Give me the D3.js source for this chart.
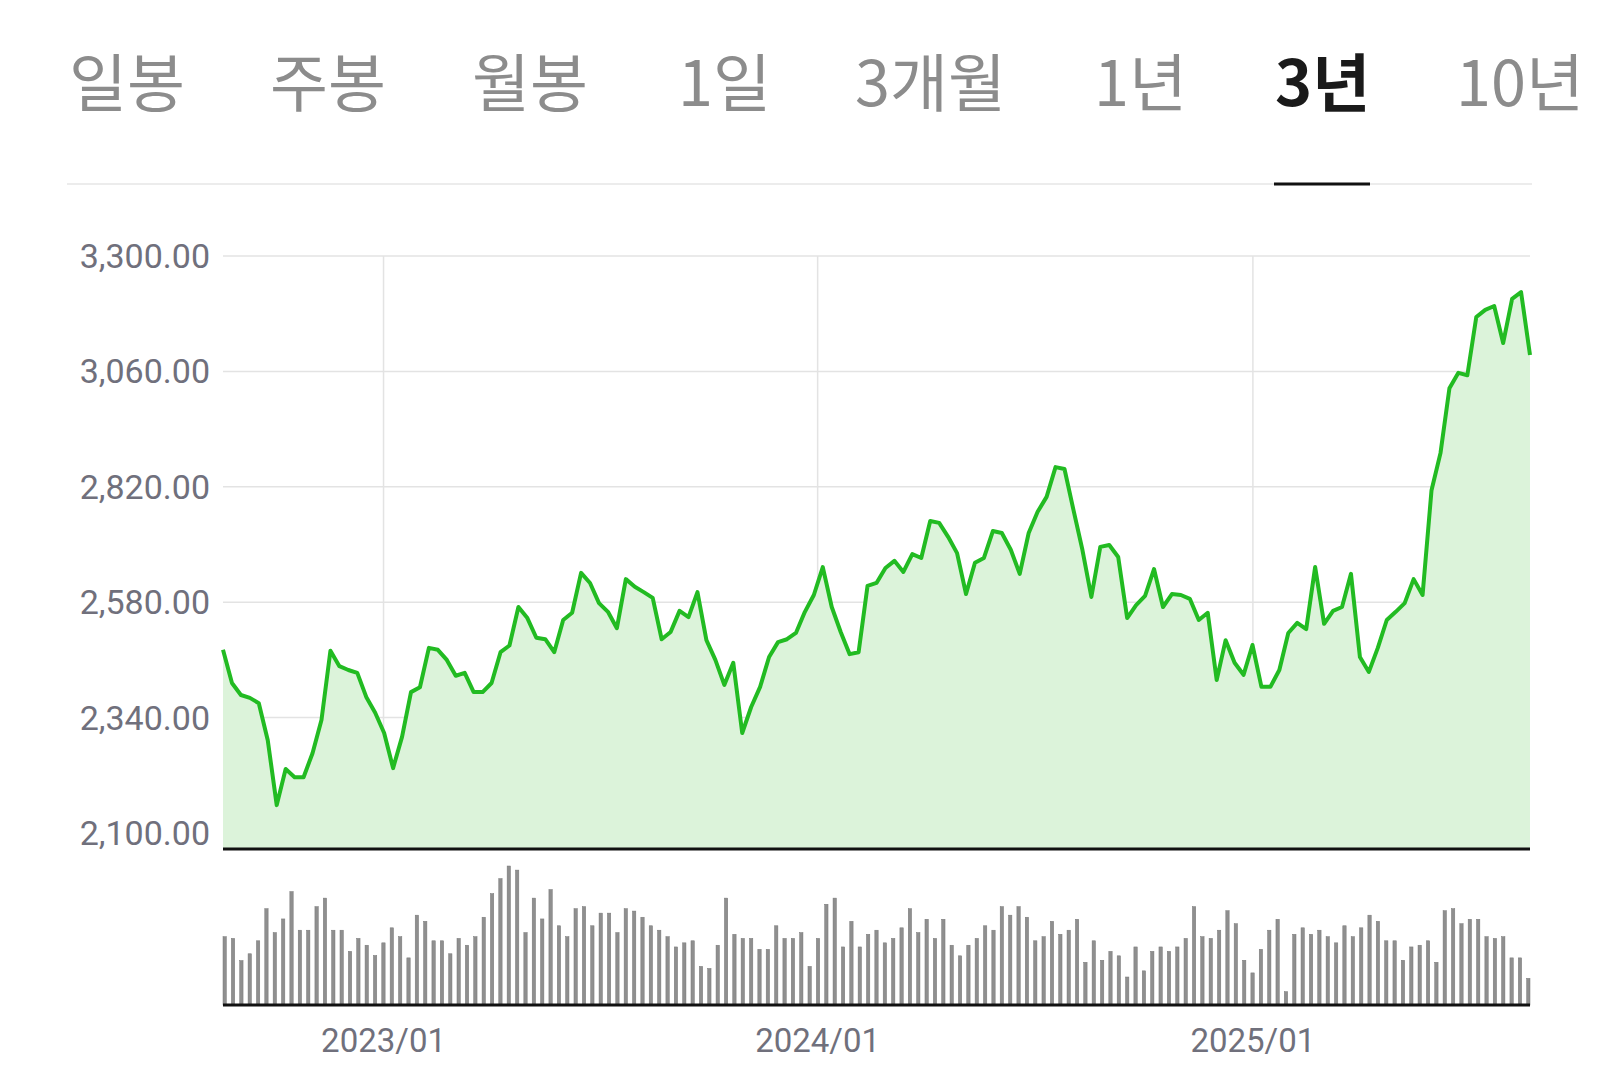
<!DOCTYPE html>
<html>
<head>
<meta charset="utf-8">
<script src="https://cdn.jsdelivr.net/npm/d3@7"></script>
<style>
  body { margin: 0; background: #fff; }
  svg { display: block; }
</style>
</head>
<body>
<div id="chart"></div>
<script>
// tabs
const tabs = ["일봉", "주봉", "월봉", "1일", "3개월", "1년", "3년", "10년"];
const tabX = [69, 270, 472, 678, 855, 1094, 1275, 1456];
const activeTab = "3년";

// price axis
const yTicks = [2100, 2340, 2580, 2820, 3060, 3300];
const xTickLabels = ["2023/01", "2024/01", "2025/01"];
const xTickDates = [new Date(2023, 0, 1), new Date(2024, 0, 1), new Date(2025, 0, 1)];

// weekly close
const prices = [
  2481, 2412, 2387, 2381, 2370, 2293, 2158, 2233, 2216, 2216, 2266, 2335, 2479, 2447, 2439, 2433,
  2383, 2350, 2308, 2235, 2300, 2393, 2403, 2485, 2481, 2460, 2427, 2433, 2393, 2393, 2412, 2476,
  2490, 2570, 2547, 2506, 2503, 2476, 2543,
  2558, 2641, 2620, 2578, 2560, 2526, 2628, 2612, 2601, 2589, 2503, 2518, 2562, 2549, 2601, 2501,
  2460, 2408, 2454, 2308, 2362, 2404, 2466, 2497, 2503, 2516, 2560, 2595, 2653, 2570, 2518, 2472,
  2476, 2614, 2620,
  2651, 2666, 2643, 2680, 2672, 2749, 2745, 2716, 2682, 2597, 2662, 2672, 2728, 2724, 2689, 2639,
  2724, 2768, 2799, 2861, 2857, 2772, 2689, 2591, 2695, 2699, 2674, 2547, 2574, 2593, 2649, 2570,
  2597, 2595, 2587, 2543, 2558, 2418,
  2501, 2454, 2429, 2491, 2404, 2404, 2439, 2516, 2537, 2524, 2653, 2535, 2562, 2570, 2639, 2466,
  2435, 2485, 2543, 2560, 2578, 2628, 2595, 2813, 2890, 3025, 3057, 3052, 3173, 3188, 3196, 3119,
  3211, 3225, 3094
];

// weekly volume (relative bar heights)
const volumes = [
  200, 195, 130, 150, 188, 282, 212, 252, 332, 219, 219, 288, 313, 219, 219, 157, 195, 175, 145, 182,
  226, 200, 138, 263, 245, 188, 188, 150, 195, 175, 200, 257, 326, 370, 407, 395, 212, 313, 252, 338,
  232, 200, 282, 288, 232, 269, 269, 212, 282, 275, 257, 232, 219, 200, 170, 182, 188, 113, 107, 175,
  313, 207, 195, 195, 163, 163, 232, 195, 195, 212, 113, 195, 295, 313, 170, 245,
  170, 207, 219, 182, 195, 226, 282, 212, 251, 195, 251, 175, 144, 175, 195, 232, 219, 288, 263, 288,
  257, 188, 200, 245, 207, 219, 251, 125, 188, 131, 157, 144, 82, 170, 100, 157, 170, 157, 170, 195,
  288, 200, 195, 219, 276, 238, 131, 94, 163, 219, 251, 39, 207, 226, 207, 219, 200, 182, 232, 200,
  226, 263, 245, 188, 188, 131, 170, 175, 188, 125, 276, 282, 238, 251, 251, 200, 195, 200, 138, 138,
  78
];

const W = 1600, H = 1092;
const plotL = 223, plotR = 1530, plotT = 256, plotB = 833;
const axisY = 849, volTop = 866, volBase = 1005;

const svg = d3.select("#chart").append("svg")
  .attr("width", W).attr("height", H);

// tabs
svg.selectAll(".tab")
  .data(tabs)
  .join("text")
  .attr("class", "tab")
  .attr("x", (d, i) => tabX[i])
  .attr("y", 106)
  .attr("font-family", "'Noto Sans CJK KR', 'Noto Sans', sans-serif")
  .attr("font-size", 63)
  .attr("font-weight", d => d === activeTab ? 700 : 400)
  .attr("fill", d => d === activeTab ? "#1a1a1a" : "#8c8c8c")
  .text(d => d);

svg.append("line")
  .attr("x1", 67).attr("x2", 1532).attr("y1", 184).attr("y2", 184)
  .attr("stroke", "#ececec").attr("stroke-width", 2);
svg.append("line")
  .attr("x1", 1274).attr("x2", 1370).attr("y1", 184).attr("y2", 184)
  .attr("stroke", "#111").attr("stroke-width", 3);

// scales
const x = d3.scaleLinear().domain([0, prices.length - 1]).range([plotL, plotR]);
const xt = d3.scaleTime()
  .domain([new Date(2022, 7, 19), new Date(2025, 7, 22)])
  .range([plotL, plotR]);
const y = d3.scaleLinear().domain([2100, 3300]).range([plotB, plotT]);

// grid
svg.append("g")
  .selectAll("line")
  .data(yTicks)
  .join("line")
  .attr("x1", plotL).attr("x2", plotR)
  .attr("y1", d => y(d)).attr("y2", d => y(d))
  .attr("stroke", "#e3e3e3").attr("stroke-width", 1.5);
svg.append("g")
  .selectAll("line")
  .data(xTickDates)
  .join("line")
  .attr("x1", d => xt(d)).attr("x2", d => xt(d))
  .attr("y1", plotT).attr("y2", plotB)
  .attr("stroke", "#e3e3e3").attr("stroke-width", 1.5);

// y labels
svg.append("g")
  .selectAll("text")
  .data(yTicks)
  .join("text")
  .attr("x", 210)
  .attr("y", d => y(d) + 12)
  .attr("text-anchor", "end")
  .attr("font-family", "Roboto, 'Noto Sans', sans-serif")
  .attr("font-size", 34)
  .attr("fill", "#70707c")
  .text(d3.format(",.2f"));

// area + line
const area = d3.area()
  .x((d, i) => x(i))
  .y0(axisY)
  .y1(d => y(d));
svg.append("path")
  .datum(prices)
  .attr("d", area)
  .attr("fill", "#dcf3da");

const line = d3.line()
  .x((d, i) => x(i))
  .y(d => y(d));
svg.append("path")
  .datum(prices)
  .attr("d", line)
  .attr("fill", "none")
  .attr("stroke", "#22bb22")
  .attr("stroke-width", 4)
  .attr("stroke-linejoin", "round");

svg.append("line")
  .attr("x1", plotL).attr("x2", plotR).attr("y1", axisY).attr("y2", axisY)
  .attr("stroke", "#111").attr("stroke-width", 3);

// volume
const xv = d3.scaleBand()
  .domain(d3.range(volumes.length))
  .range([plotL, plotR])
  .paddingInner(0.6);
const yv = d3.scaleLinear().domain([0, d3.max(volumes)]).range([volBase, volTop]);
svg.append("g")
  .selectAll("rect")
  .data(volumes)
  .join("rect")
  .attr("x", (d, i) => xv(i))
  .attr("width", Math.max(2.5, xv.bandwidth()))
  .attr("y", d => yv(d))
  .attr("height", d => volBase - yv(d))
  .attr("fill", "#8f8f8f")
  .attr("stroke", "#777")
  .attr("stroke-width", 0.5);

svg.append("line")
  .attr("x1", plotL).attr("x2", plotR).attr("y1", volBase).attr("y2", volBase)
  .attr("stroke", "#111").attr("stroke-width", 3);

// x labels
svg.append("g")
  .selectAll("text")
  .data(xTickDates)
  .join("text")
  .attr("x", d => xt(d))
  .attr("y", 1052)
  .attr("text-anchor", "middle")
  .attr("font-family", "Roboto, 'Noto Sans', sans-serif")
  .attr("font-size", 33)
  .attr("fill", "#70707c")
  .text((d, i) => xTickLabels[i]);
</script>
</body>
</html>
